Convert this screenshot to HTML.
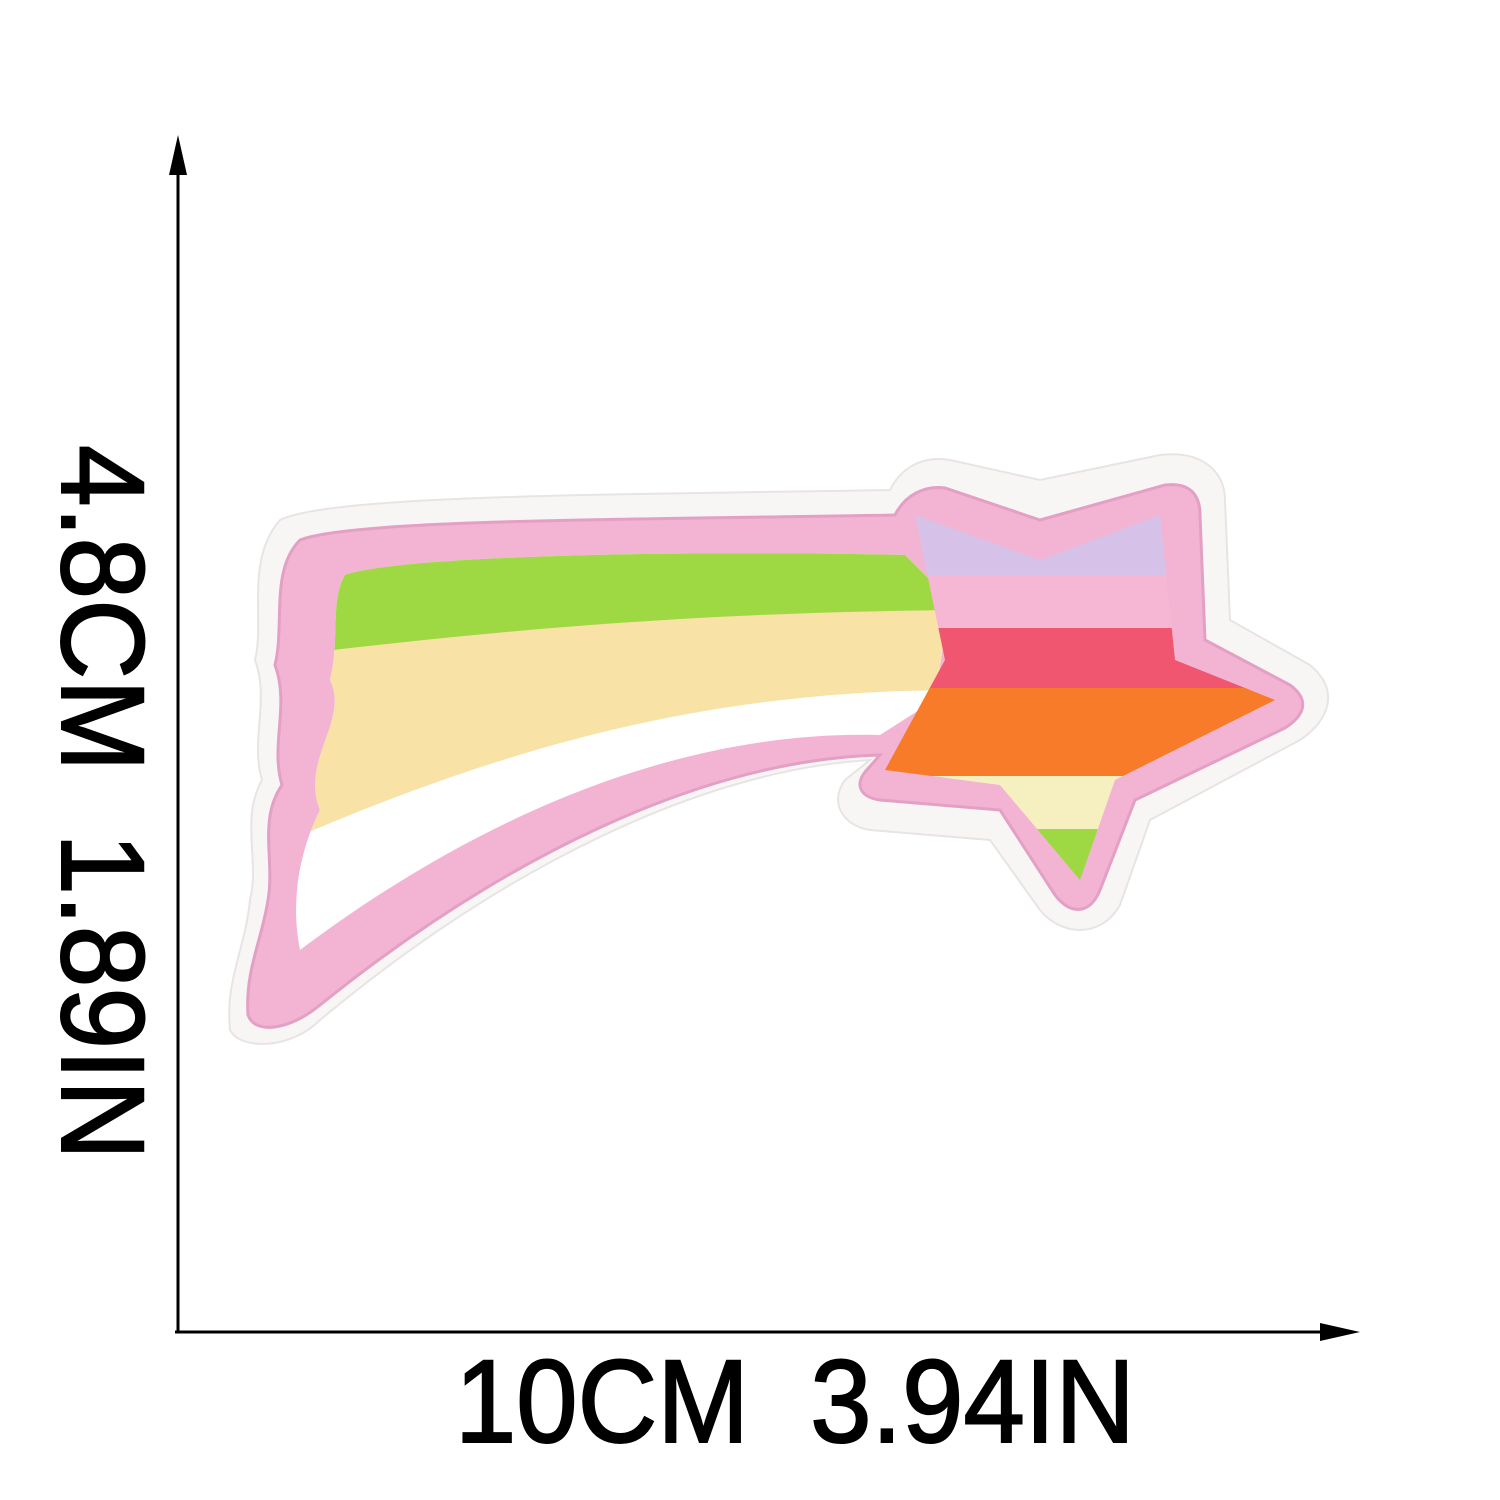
<!DOCTYPE html>
<html><head><meta charset="utf-8"><style>
html,body{margin:0;padding:0;background:#fff;}
svg{display:block}
text{font-family:"Liberation Sans",sans-serif;fill:#000}
</style></head><body>
<svg width="1500" height="1500" viewBox="0 0 1500 1500">
<defs>
<clipPath id="tailClip"><path d="M345,575 C400,555 700,550 905,555 L950,600 L935,700 L880,735 C700,730 500,800 300,950 C290,900 300,850 320,810 C300,760 350,720 330,680 C340,640 330,600 345,575 Z"/></clipPath>
<clipPath id="starClip"><path d="M915,515 L1040,560 L1160,515 L1175,660 L1275,700 L1115,780 L1080,880 L1000,785 L885,770 L945,660 Z"/></clipPath>
</defs>
<g>
<path fill="#f8f6f4" stroke="#e8e4e4" stroke-width="2"
 d="M230,1030 C225,980 245,950 250,900 C260,860 240,820 262,780 C250,740 270,700 255,660 C265,620 245,560 280,520 C330,495 600,495 890,490 C900,470 920,455 950,460 L1040,480 L1160,455 C1200,450 1225,470 1225,500 L1230,620 L1310,665 C1340,690 1330,720 1300,740 L1150,820 L1120,905 C1100,940 1060,935 1040,910 L990,840 L870,830 C840,825 830,800 845,780 L870,760 C700,770 500,870 320,1020 C290,1050 240,1050 230,1030 Z"/>
<path fill="#f2b4d2" stroke="#e3a0c4" stroke-width="3"
 d="M248,1015 C245,970 262,940 268,900 C275,860 258,820 282,785 C270,745 290,705 275,665 C285,625 270,570 300,540 C350,520 600,520 895,515 C905,495 925,485 945,488 L1040,520 L1165,485 C1190,482 1200,495 1200,515 L1205,640 L1290,685 C1310,700 1305,715 1285,728 L1135,800 L1100,890 C1090,915 1070,915 1055,895 L1000,810 L880,800 C860,797 855,785 865,772 L880,755 C700,760 500,860 320,1005 C290,1030 255,1035 248,1015 Z"/>
<g clip-path="url(#tailClip)">
<rect x="280" y="540" width="700" height="500" fill="#ffffff"/>
<path fill="#f9e2a6" d="M280,600 L960,600 L960,690 C700,690 500,750 290,840 Z"/>
<path fill="#9ed843" d="M280,540 L960,540 L960,610 C700,612 500,630 290,655 Z"/>
</g>
<g clip-path="url(#starClip)">
<rect x="860" y="500" width="440" height="80" fill="#d6c2e8"/>
<rect x="860" y="575" width="440" height="55" fill="#f5b7d4"/>
<rect x="860" y="628" width="440" height="62" fill="#f0566f"/>
<rect x="860" y="688" width="440" height="90" fill="#f77b28"/>
<rect x="860" y="776" width="440" height="55" fill="#f6f0c0"/>
<rect x="860" y="829" width="440" height="60" fill="#9ed843"/>
</g>
</g>
<g>
<line x1="178" y1="160" x2="178" y2="1333" stroke="#000" stroke-width="3"/>
<polygon points="178,135 169,175 187,175" fill="#000"/>
<line x1="175" y1="1332" x2="1335" y2="1332" stroke="#000" stroke-width="3"/>
<polygon points="1360,1332 1320,1323 1320,1341" fill="#000"/>
</g>
<text x="455" y="1442" font-size="118" textLength="680" lengthAdjust="spacingAndGlyphs" stroke="#000" stroke-width="2" xml:space="preserve">10CM  3.94IN</text>
<text transform="translate(62,445) rotate(90)" font-size="118" textLength="715" lengthAdjust="spacingAndGlyphs" stroke="#000" stroke-width="2" xml:space="preserve">4.8CM  1.89IN</text>
</svg>
</body></html>
